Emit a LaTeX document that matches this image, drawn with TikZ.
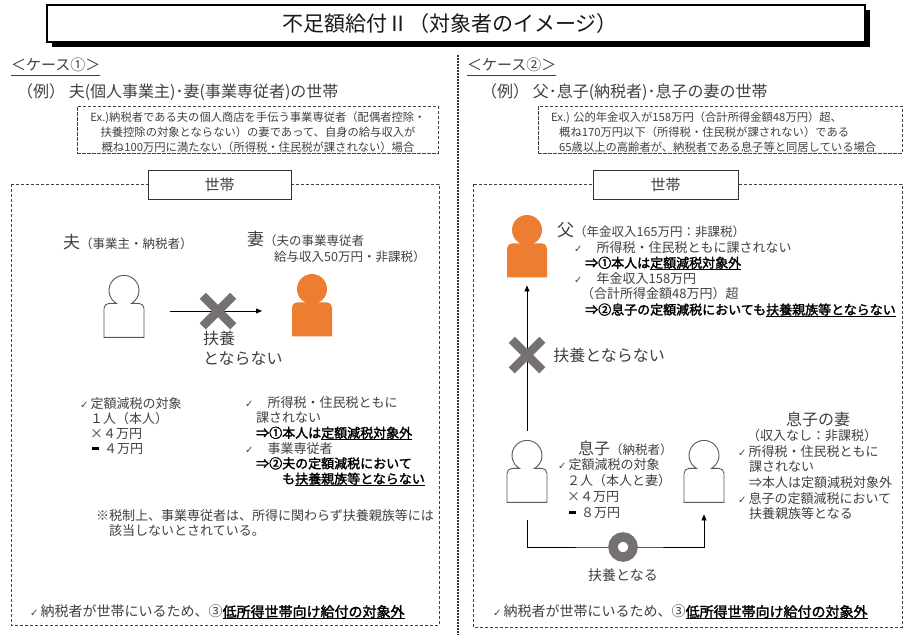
\documentclass[tikz,border=0pt]{standalone}
\usepackage{fontspec}
\setmainfont{Noto Sans CJK JP}[BoldFont={Noto Sans CJK JP}, BoldFeatures={FakeBold=2}]
\newfontfamily\checkfont{DejaVu Sans}
\usetikzlibrary{positioning,arrows.meta,shapes.misc,shadows}
\definecolor{txtgray}{HTML}{404040}
\definecolor{fuyoorange}{HTML}{ED7D31}
\definecolor{xgray}{HTML}{767171}
\newcommand{\fsz}[2]{\fontsize{#1}{#2}\selectfont}
\newcommand{\chk}{{\checkfont\fontsize{10}{10}\selectfont ✓}}
\newcommand{\barsign}{\hspace{2pt}{\color{black}\rule[3.5pt]{7pt}{2.4pt}}\hspace{5pt}}
\newcommand{\boldpart}[1]{{\bfseries\color{black}#1}}
\newsavebox{\ulbox}
\newcommand{\ulline}[2][2pt]{\sbox{\ulbox}{#2}\rlap{\rule[-#1]{\wd\ulbox}{0.9pt}}\usebox{\ulbox}}
\newcommand{\ulbold}[1]{{\color{black}\ulline{\bfseries #1}}}
\newcommand{\personline}[2]{%
  \node[iconbody] (#1) at (#2) {};
  \draw[iconline] ([xshift=-20pt]#1.south) -- ++(0,29) arc[start angle=180,end angle=90,radius=5pt] -- ++(7.5,0) arc[start angle=240,end angle=-60,radius=15pt] -- ++(7.5,0) arc[start angle=90,end angle=0,radius=5pt] -- ([xshift=20pt]#1.south) -- cycle;}
\newcommand{\personfill}[2]{%
  \node[iconbody] (#1) at (#2) {};
  \fill[fuyoorange] ([xshift=-20pt]#1.south) -- ++(0,29) arc[start angle=180,end angle=90,radius=5pt] -- ++(30,0) arc[start angle=90,end angle=0,radius=5pt] -- ([xshift=20pt]#1.south) -- cycle;
  \fill[fuyoorange] ([yshift=13pt]#1.north) circle[radius=15pt];}
\begin{document}
\begin{tikzpicture}[x=1pt,y=1pt,
  txt/.style={inner sep=0pt, anchor=west, text=txtgray},
  block/.style={inner sep=0pt, anchor=north west, align=left, text=txtgray},
  titlebox/.style={draw, fill=white, line width=1.5pt, minimum width=818pt, minimum height=37pt,
    drop shadow={shadow xshift=5pt, shadow yshift=-5pt, fill=black, opacity=1}},
  hhbox/.style={draw=txtgray, line width=0.8pt, dash pattern=on 3pt off 2pt},
  exbox/.style={draw=txtgray, line width=0.7pt, dash pattern=on 3.5pt off 1.5pt, minimum width=361pt, minimum height=47pt},
  labelbox/.style={draw=black!80, fill=white, line width=0.9pt, minimum height=29pt, text=txtgray, font=\fsz{15}{18}},
  iconbody/.style={minimum width=40pt, minimum height=34pt, inner sep=0pt, anchor=north},
  iconline/.style={draw=black!65, line width=0.9pt, fill=white},
  nox/.style={cross out, draw=xgray, line width=8.5pt, minimum size=22pt, inner sep=0pt},
  okring/.style={circle, draw=xgray, fill=white, line width=9.5pt, minimum size=20pt, inner sep=0pt},
  arr/.style={-{Triangle[length=6pt,width=5pt]}, line width=0.8pt}]
  \useasboundingbox (0,0) rectangle (913,-635);

  \node[titlebox] (titlebox) at (456,-23.5) {};
  \node[font=\fsz{21}{24}, text=black!90] (title) at (450,-24) {不足額給付Ⅱ（対象者のイメージ）};

  \node[txt, font=\fsz{15}{18}] (case1) at (11,-67) {\ulline[5pt]{＜ケース①＞}};
  \node[txt, font=\fsz{16}{19}] (eg1) at (17,-92) {（例） 夫(個人事業主)･妻(事業専従者)の世帯};
  \node[exbox] (exbox1) at (257.5,-129.5) {};
  \node[font=\fsz{11.3}{15}, align=center, text=txtgray, inner sep=0pt] (ex1) at (258,-132)
    {Ex.)納税者である夫の個人商店を手伝う事業専従者（配偶者控除・\\扶養控除の対象とならない）の妻であって、自身の給与収入が\\概ね100万円に満たない（所得税・住民税が課されない）場合};

  \node[txt, font=\fsz{15}{18}] (case2) at (467,-67) {\ulline[5pt]{＜ケース②＞}};
  \node[txt, font=\fsz{16}{19}] (eg2) at (481,-92) {（例） 父･息子(納税者)･息子の妻の世帯};
  \node[exbox, minimum width=364pt] (exbox2) at (720,-129.5) {};
  \node[block, font=\fsz{11.3}{15}] (ex2) at (551,-111.5)
    {Ex.) 公的年金収入が158万円（合計所得金額48万円）超、\\\hspace*{8pt}概ね170万円以下（所得税・住民税が課されない）である\\\hspace*{8pt}65歳以上の高齢者が、納税者である息子等と同居している場合};

  \draw[black!80, line width=1.2pt, dash pattern=on 2pt off 1pt] (458,-55) -- (458,-635);

  \draw[hhbox] (11,-184) rectangle (439,-625);
  \node[labelbox, minimum width=143pt] (hh1) at (219.5,-184.5) {世帯};
  \draw[hhbox] (473,-184) rectangle (902,-627);
  \node[labelbox, minimum width=145pt] (hh2) at (665.5,-184.5) {世帯};

  \personline{husband}{124,-303}
  \personfill{wife}{312,-302}
  \node[txt] (husbandlab) at (63,-242) {{\fsz{17}{20}夫}{\fsz{12.5}{15}（事業主・納税者）}};
  \node[txt] (wifelab) at (247,-239) {{\fsz{17}{20}妻}{\fsz{12.5}{15}（夫の事業専従者}};
  \node[txt, font=\fsz{12.5}{15}] (wifeinc) at (274,-257) {給与収入50万円・非課税）};
  \coordinate (fuyo1a) at (170,-311);
  \coordinate (fuyo1b) at (262,-311);
  \draw[arr] (fuyo1a) -- (fuyo1b);
  \node[nox] (nox1) at (218,-311) {};
  \node[block, font=\fsz{16}{20}] (nofuyo1) at (203,-331) {扶養\\とならない};

  \node[block, font=\fsz{13}{15}] (taisho1) at (80,-397)
    {\chk\hspace{2pt}定額減税の対象\\\hspace*{10pt}１人（本人）\\\hspace*{10pt}×４万円\\\hspace*{10pt}\barsign ４万円};
  \node[block, font=\fsz{13}{15.3}] (kazei1) at (245,-396)
    {\chk\hspace{14pt}所得税・住民税ともに\\\hspace*{11pt}課されない\\\hspace*{11pt}\boldpart{⇒①本人は}\ulbold{定額減税対象外}\\\chk\hspace{14pt}事業専従者\\\hspace*{11pt}\boldpart{⇒②夫の定額減税において}\\\hspace*{37pt}\boldpart{も}\ulbold{扶養親族等とならない}};
  \node[block, font=\fsz{13}{15}] (note1) at (96,-509)
    {※税制上、事業専従者は、所得に関わらず扶養親族等には\\\hspace*{13pt}該当しないとされている。};
  \node[txt, font=\fsz{14}{17}] (out1) at (30,-612) {\chk\hspace{2pt}納税者が世帯にいるため、③\ulbold{低所得世帯向け給付の対象外}};

  \personfill{father}{527,-243}
  \node[txt] (fatherlab) at (557,-230) {{\fsz{17}{20}父}{\fsz{12.5}{15}（年金収入165万円：非課税）}};
  \node[block, font=\fsz{13}{15.6}] (kazei2) at (574,-241)
    {\chk\hspace{14pt}所得税・住民税ともに課されない\\\hspace*{11pt}\boldpart{⇒①本人は}\ulbold{定額減税対象外}\\\chk\hspace{14pt}年金収入158万円\\\hspace*{7pt}（合計所得金額48万円）超\\\hspace*{11pt}\boldpart{⇒②息子の定額減税においても}\ulbold{扶養親族等とならない}};

  \personline{son}{527,-468}
  \personline{sonwife}{704,-468}
  \draw[arr] ([yshift=37pt]son.north) -- ([yshift=-8pt]father.south);
  \node[nox] (nox2) at (527,-355) {};
  \node[txt, font=\fsz{16}{19}, right=11pt of nox2] (nofuyo2) {扶養とならない};

  \node[txt] (sonlab) at (578,-448) {{\fsz{16}{19}息子}{\fsz{12.5}{15}（納税者）}};
  \node[block, font=\fsz{13}{16}] (taisho2) at (558,-458)
    {\chk\hspace{2pt}定額減税の対象\\\hspace*{9pt}２人（本人と妻）\\\hspace*{9pt}×４万円\\\hspace*{9pt}\barsign ８万円};
  \coordinate (ringpos) at (623,-547);
  \draw[arr] ([yshift=-18pt]son.south) |- (ringpos) -| ([yshift=-12pt]sonwife.south);
  \node[okring] (ring) at (ringpos) {};
  \node[txt, font=\fsz{14}{17}, below=7pt of ring] (fuyoyes) {扶養となる};

  \node[font=\fsz{16}{19}, text=txtgray, inner sep=0pt] (sonwifelab) at (818,-419) {息子の妻};
  \node[font=\fsz{13}{15}, text=txtgray, inner sep=0pt] (sonwifeinc) at (812,-436) {（収入なし：非課税）};
  \node[block, font=\fsz{13}{15.7}] (kazei3) at (738,-445)
    {\chk\hspace{2pt}所得税・住民税ともに\\\hspace*{11pt}課されない\\\hspace*{11pt}⇒本人は定額減税対象外\\\chk\hspace{2pt}息子の定額減税において\\\hspace*{11pt}扶養親族等となる};
  \node[txt, font=\fsz{14}{17}] (out2) at (493,-612) {\chk\hspace{2pt}納税者が世帯にいるため、③\ulbold{低所得世帯向け給付の対象外}};
\end{tikzpicture}
\end{document}
